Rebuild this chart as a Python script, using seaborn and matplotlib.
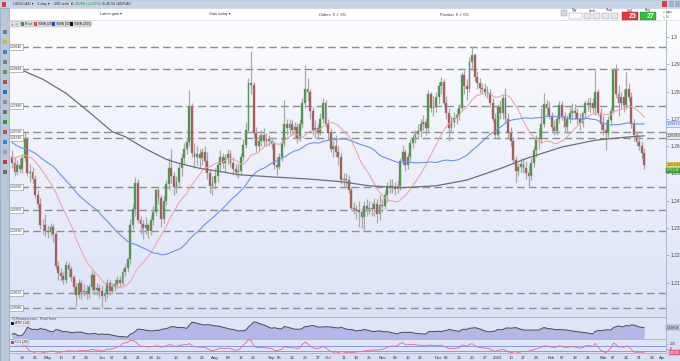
import numpy as np
import pandas as pd
import matplotlib
matplotlib.use("Agg")
import matplotlib.pyplot as plt
import matplotlib.transforms as mtransforms
from matplotlib.colors import LinearSegmentedColormap
from matplotlib.patches import Rectangle
import seaborn as sns

sns.set_theme(style="white")
plt.rcParams["font.family"] = ["Liberation Sans", "DejaVu Sans"]

W, H = 680, 361

# ---- USD/CAD daily candles, 13 Apr 2021 - 23 Mar 2022 (one row per week) ----
first_day = "2021-04-13"
first_open = 1.2560
closes = [
    1.2540, 1.2505, 1.2530, 1.2515,
    1.2555, 1.2625, 1.2500, 1.2505, 1.2480,
    1.2420, 1.2390, 1.2310, 1.2310, 1.2290,
    1.2285, 1.2305, 1.2280, 1.2160, 1.2135,
    1.2125, 1.2110, 1.2165, 1.2150, 1.2120,
    1.2085, 1.2055, 1.2100, 1.2065, 1.2070,
    1.2060, 1.2085, 1.2130, 1.2075, 1.2080,
    1.2070, 1.2050, 1.2060, 1.2100, 1.2070,
    1.2085, 1.2095, 1.2110, 1.2100, 1.2140,
    1.2155, 1.2185, 1.2310, 1.2370, 1.2465,
    1.2330, 1.2315, 1.2300, 1.2310, 1.2290,
    1.2330, 1.2360, 1.2440, 1.2410, 1.2335,
    1.2400, 1.2460, 1.2520, 1.2490, 1.2450,
    1.2470, 1.2520, 1.2555, 1.2590, 1.2615,
    1.2745, 1.2575, 1.2560, 1.2570, 1.2555,
    1.2580, 1.2545, 1.2500, 1.2455, 1.2465,
    1.2490, 1.2530, 1.2560, 1.2540, 1.2555,
    1.2570, 1.2540, 1.2515, 1.2505, 1.2510,
    1.2560, 1.2605, 1.2660, 1.2830, 1.2825,
    1.2650, 1.2600, 1.2620, 1.2640, 1.2620,
    1.2625, 1.2620, 1.2610, 1.2530, 1.2525,
    1.2560, 1.2610, 1.2680, 1.2665, 1.2680,
    1.2660, 1.2670, 1.2630, 1.2680, 1.2760,
    1.2810, 1.2800, 1.2730, 1.2660, 1.2665,
    1.2650, 1.2700, 1.2760, 1.2680, 1.2650,
    1.2590, 1.2600, 1.2580, 1.2560, 1.2475,
    1.2480, 1.2475, 1.2440, 1.2375, 1.2370,
    1.2365, 1.2360, 1.2340, 1.2380, 1.2370,
    1.2375, 1.2370, 1.2390, 1.2350, 1.2385,
    1.2380, 1.2420, 1.2450, 1.2455, 1.2450,
    1.2445, 1.2455, 1.2545, 1.2580, 1.2530,
    1.2560, 1.2610, 1.2630, 1.2645, 1.2655,
    1.2680, 1.2690, 1.2665, 1.2790, 1.2740,
    1.2745, 1.2780, 1.2820, 1.2835, 1.2760,
    1.2720, 1.2665, 1.2690, 1.2705, 1.2715,
    1.2740, 1.2860, 1.2820, 1.2810, 1.2910,
    1.2935, 1.2855, 1.2830, 1.2815, 1.2810,
    1.2800, 1.2795, 1.2760, 1.2700, 1.2640,
    1.2745, 1.2720, 1.2775, 1.2700, 1.2650,
    1.2620, 1.2550, 1.2510, 1.2525, 1.2535,
    1.2520, 1.2500, 1.2490, 1.2540, 1.2585,
    1.2630, 1.2625, 1.2680, 1.2755, 1.2740,
    1.2710, 1.2670, 1.2655, 1.2700, 1.2750,
    1.2710, 1.2670, 1.2700, 1.2720, 1.2730,
    1.2720, 1.2700, 1.2685, 1.2720, 1.2760,
    1.2750, 1.2760, 1.2740, 1.2800, 1.2720,
    1.2680, 1.2660, 1.2650, 1.2695, 1.2730,
    1.2880, 1.2790, 1.2760, 1.2780, 1.2750,
    1.2810, 1.2780, 1.2680, 1.2640, 1.2615,
    1.2600, 1.2575, 1.2530,
]
highs = [
    1.2585, 1.2560, 1.2550, 1.2555,
    1.2570, 1.2650, 1.2635, 1.2535, 1.2525,
    1.2495, 1.2440, 1.2410, 1.2335, 1.2350,
    1.2310, 1.2320, 1.2315, 1.2285, 1.2180,
    1.2155, 1.2140, 1.2180, 1.2175, 1.2160,
    1.2130, 1.2100, 1.2115, 1.2110, 1.2095,
    1.2090, 1.2095, 1.2145, 1.2140, 1.2100,
    1.2095, 1.2090, 1.2080, 1.2115, 1.2110,
    1.2100, 1.2115, 1.2125, 1.2125, 1.2155,
    1.2170, 1.2195, 1.2335, 1.2390, 1.2487,
    1.2480, 1.2345, 1.2330, 1.2340, 1.2320,
    1.2345, 1.2380, 1.2445, 1.2455, 1.2420,
    1.2420, 1.2475, 1.2555, 1.2590, 1.2505,
    1.2490, 1.2535, 1.2575, 1.2610, 1.2625,
    1.2805, 1.2760, 1.2610, 1.2600, 1.2590,
    1.2595, 1.2600, 1.2580, 1.2515, 1.2490,
    1.2520, 1.2545, 1.2585, 1.2575, 1.2570,
    1.2590, 1.2585, 1.2560, 1.2540, 1.2535,
    1.2575, 1.2625, 1.2690, 1.2850, 1.2949,
    1.2835, 1.2670, 1.2640, 1.2660, 1.2665,
    1.2650, 1.2640, 1.2635, 1.2620, 1.2560,
    1.2575, 1.2625, 1.2770, 1.2700, 1.2700,
    1.2695, 1.2690, 1.2685, 1.2700, 1.2775,
    1.2896, 1.2850, 1.2810, 1.2745, 1.2695,
    1.2680, 1.2720, 1.2775, 1.2770, 1.2700,
    1.2665, 1.2620, 1.2640, 1.2600, 1.2575,
    1.2500, 1.2500, 1.2495, 1.2450, 1.2395,
    1.2385, 1.2400, 1.2375, 1.2400, 1.2405,
    1.2400, 1.2395, 1.2410, 1.2405, 1.2420,
    1.2405, 1.2435, 1.2470, 1.2480, 1.2480,
    1.2470, 1.2475, 1.2555, 1.2605, 1.2590,
    1.2575, 1.2625, 1.2645, 1.2660, 1.2680,
    1.2700, 1.2715, 1.2705, 1.2805, 1.2800,
    1.2785, 1.2800, 1.2835, 1.2855, 1.2845,
    1.2785, 1.2740, 1.2710, 1.2725, 1.2735,
    1.2755, 1.2870, 1.2880, 1.2845, 1.2925,
    1.2964, 1.2940, 1.2875, 1.2850, 1.2830,
    1.2830, 1.2820, 1.2810, 1.2775, 1.2720,
    1.2755, 1.2770, 1.2790, 1.2815, 1.2720,
    1.2670, 1.2635, 1.2565, 1.2540, 1.2555,
    1.2555, 1.2545, 1.2530, 1.2555, 1.2600,
    1.2640, 1.2665, 1.2740, 1.2795, 1.2770,
    1.2765, 1.2725, 1.2695, 1.2715, 1.2765,
    1.2765, 1.2725, 1.2715, 1.2745, 1.2760,
    1.2755, 1.2740, 1.2720, 1.2730, 1.2770,
    1.2775, 1.2780, 1.2775, 1.2879, 1.2810,
    1.2740, 1.2715, 1.2690, 1.2710, 1.2745,
    1.2885, 1.2900, 1.2825, 1.2800, 1.2810,
    1.2870, 1.2830, 1.2800, 1.2700, 1.2655,
    1.2640, 1.2620, 1.2595,
]
lows = [
    1.2520, 1.2490, 1.2495, 1.2500,
    1.2500, 1.2545, 1.2490, 1.2470, 1.2465,
    1.2410, 1.2375, 1.2295, 1.2280, 1.2270,
    1.2265, 1.2270, 1.2250, 1.2150, 1.2110,
    1.2105, 1.2095, 1.2100, 1.2120, 1.2105,
    1.2060, 1.2015, 1.2045, 1.2040, 1.2050,
    1.2040, 1.2045, 1.2070, 1.2060, 1.2055,
    1.2045, 1.2007, 1.2030, 1.2045, 1.2055,
    1.2060, 1.2070, 1.2080, 1.2085, 1.2090,
    1.2125, 1.2140, 1.2170, 1.2295, 1.2345,
    1.2320, 1.2280, 1.2260, 1.2280, 1.2265,
    1.2275, 1.2310, 1.2345, 1.2390, 1.2305,
    1.2320, 1.2385, 1.2440, 1.2465, 1.2420,
    1.2430, 1.2455, 1.2490, 1.2535, 1.2570,
    1.2600, 1.2560, 1.2520, 1.2530, 1.2520,
    1.2530, 1.2520, 1.2480, 1.2430, 1.2420,
    1.2445, 1.2470, 1.2510, 1.2520, 1.2505,
    1.2535, 1.2525, 1.2495, 1.2490, 1.2485,
    1.2495, 1.2545, 1.2595, 1.2650, 1.2790,
    1.2630, 1.2580, 1.2585, 1.2600, 1.2600,
    1.2600, 1.2600, 1.2590, 1.2515, 1.2495,
    1.2515, 1.2545, 1.2600, 1.2640, 1.2645,
    1.2640, 1.2630, 1.2610, 1.2620, 1.2665,
    1.2740, 1.2765, 1.2700, 1.2640, 1.2630,
    1.2625, 1.2640, 1.2685, 1.2670, 1.2625,
    1.2580, 1.2560, 1.2560, 1.2530, 1.2460,
    1.2455, 1.2455, 1.2430, 1.2365, 1.2350,
    1.2335, 1.2305, 1.2300, 1.2288, 1.2345,
    1.2350, 1.2345, 1.2345, 1.2320, 1.2330,
    1.2360, 1.2370, 1.2395, 1.2430, 1.2430,
    1.2420, 1.2430, 1.2440, 1.2530, 1.2510,
    1.2515, 1.2545, 1.2595, 1.2610, 1.2625,
    1.2635, 1.2660, 1.2640, 1.2650, 1.2725,
    1.2710, 1.2725, 1.2755, 1.2790, 1.2745,
    1.2700, 1.2620, 1.2650, 1.2670, 1.2680,
    1.2695, 1.2730, 1.2790, 1.2770, 1.2800,
    1.2880, 1.2840, 1.2810, 1.2795, 1.2795,
    1.2785, 1.2775, 1.2745, 1.2690, 1.2630,
    1.2625, 1.2700, 1.2700, 1.2690, 1.2625,
    1.2600, 1.2540, 1.2470, 1.2490, 1.2505,
    1.2500, 1.2480, 1.2450, 1.2475, 1.2525,
    1.2560, 1.2590, 1.2610, 1.2670, 1.2715,
    1.2700, 1.2650, 1.2640, 1.2640, 1.2685,
    1.2695, 1.2650, 1.2650, 1.2685, 1.2700,
    1.2700, 1.2680, 1.2660, 1.2670, 1.2705,
    1.2730, 1.2725, 1.2720, 1.2715, 1.2710,
    1.2660, 1.2640, 1.2586, 1.2630, 1.2680,
    1.2720, 1.2775, 1.2710, 1.2740, 1.2725,
    1.2735, 1.2765, 1.2665, 1.2620, 1.2600,
    1.2585, 1.2555, 1.2518,
]
# closes before the window, 27 Jan - 12 Apr 2021, only feed SMA (20) / SMA (50)
early_closes = [
    1.2840, 1.2820, 1.2785, 1.2800, 1.2785,
    1.2810, 1.2820, 1.2760,
    1.2745, 1.2710, 1.2685, 1.2700, 1.2700,
    1.2685, 1.2700, 1.2720, 1.2690, 1.2640,
    1.2600, 1.2610, 1.2580, 1.2620, 1.2725,
    1.2640, 1.2620, 1.2660, 1.2690, 1.2655,
    1.2650, 1.2640, 1.2635, 1.2470, 1.2480,
    1.2460, 1.2470, 1.2485, 1.2440, 1.2475,
    1.2520, 1.2575, 1.2575, 1.2580, 1.2580,
    1.2620, 1.2625, 1.2570, 1.2585, 1.2560,
    1.2550, 1.2590, 1.2600, 1.2520, 1.2555,
    1.2560,
][-49:]
# SMA (200) (trading-day index, value)
sma200_days = [0, 3, 12, 21, 30, 39, 44, 52, 60, 65, 73, 89, 102, 115, 128,
               139, 152, 165, 177, 190, 201, 214, 227, 240, 246]
sma200_vals = [1.2890, 1.2882, 1.2845, 1.2794, 1.2725, 1.2653, 1.2635, 1.2590,
               1.2552, 1.2537, 1.2519, 1.2495, 1.2487, 1.2480, 1.2470, 1.2455,
               1.2448, 1.2455, 1.2476, 1.2518, 1.2558, 1.2597, 1.2622, 1.2634,
               1.2638]
levels = [1.29640, 1.28818, 1.27480, 1.26530, 1.26310, 1.24520, 1.23650,
          1.22880, 1.20630, 1.20080]
price_ticks = [1.21, 1.22, 1.23, 1.24, 1.25, 1.26, 1.27, 1.28, 1.29, 1.30]
price_labels = ["1.21", "1.22", "1.23", "1.24", "1.25", "1.26", "1.27",
                "1.28", "1.29", "1.3"]

# ---- derived series ----
n = len(closes)
day = np.arange(n)
c = np.array(closes)
o = np.array([first_open] + closes[:-1])
h = np.maximum(np.array(highs), np.maximum(o, c))
l = np.minimum(np.array(lows), np.minimum(o, c))

full = pd.Series(early_closes + closes)
k = len(early_closes)
ma = pd.DataFrame({"day": day,
                   "sma20": full.rolling(20).mean().to_numpy()[k:],
                   "sma50": full.rolling(50).mean().to_numpy()[k:]})

prev_c = np.concatenate([[first_open], c[:-1]])
tr = np.maximum(h - l, np.maximum(np.abs(h - prev_c), np.abs(l - prev_c)))
atr = pd.Series(tr).ewm(alpha=1 / 14).mean().to_numpy()
tp = pd.Series((h + l + c) / 3)
tp_ma = tp.rolling(20, min_periods=5).mean()
tp_md = tp.rolling(20, min_periods=5).apply(lambda v: np.mean(np.abs(v - v.mean())), raw=True)
cci = ((tp - tp_ma) / (0.015 * tp_md)).to_numpy()

# ---- layout helpers (pixel coordinates, origin top-left) ----
def fx(x):
    return x / W

def fy(y):
    return 1 - y / H

fig = plt.figure(figsize=(W / 100, H / 100), dpi=100)

def box(x0, y0, x1, y1, **kw):
    fig.add_artist(Rectangle((fx(x0), fy(y1)), fx(x1 - x0), (y1 - y0) / H,
                             transform=fig.transFigure, **kw))

def txt(x, y, s, **kw):
    kw.setdefault("fontsize", 3.0)
    kw.setdefault("color", "#333333")
    kw.setdefault("va", "center")
    fig.text(fx(x), fy(y), s, **kw)

# background gradient
bg = fig.add_axes([0, 0, 1, 1], zorder=-10)
bg.imshow(np.linspace(0, 1, 200)[:, None], aspect="auto", origin="upper",
          cmap=LinearSegmentedColormap.from_list("g", ["#ffffff", "#d7def5"]),
          extent=[0, 1, 0, 1])
bg.set_axis_off()

x_lo, x_hi = (9 - 12) / 2.57, (666 - 12) / 2.57
y_lo, y_hi = 1.30 - (317 - 37) / 2730, 1.30 + (37 - 20) / 2730

ax = fig.add_axes([fx(9), fy(317), fx(657), (317 - 20) / H])
ax.set_facecolor("none")

# horizontal levels
for lvl in levels:
    ax.axhline(lvl, color="#8e8e8e", lw=1.0, ls=(0, (5.5, 3)), zorder=2)
    ax.text(x_lo + 0.35, lvl, f"{lvl:.5f}", fontsize=2.4, ha="left", va="center",
            color="#333333", zorder=7,
            bbox=dict(boxstyle="square,pad=0.3", fc="white", ec="#8a8a8a", lw=0.4))

# candles
up = c >= o
ax.vlines(day, l, h, color="#a9a9a9", lw=0.9, zorder=3)
ax.bar(day, np.maximum(np.abs(c - o), 0.00015), bottom=np.minimum(o, c), width=0.72,
       color=np.where(up, "#3d9c3d", "#b5504c"), edgecolor="#8d8d8d", linewidth=0.3,
       zorder=4)

# moving averages
sns.lineplot(data=ma, x="day", y="sma20", ax=ax, color="#eba6a6", lw=0.75, zorder=5)
sns.lineplot(data=ma, x="day", y="sma50", ax=ax, color="#7090f0", lw=0.8, zorder=5)
sns.lineplot(x=sma200_days, y=sma200_vals, ax=ax, color="#707070", lw=0.9, zorder=5)

ax.set_xlim(x_lo, x_hi)
ax.set_ylim(y_lo, y_hi)
ax.set_xlabel("")
ax.set_ylabel("")
ax.set_xticks([])
ax.yaxis.tick_right()
ax.set_yticks(price_ticks)
ax.set_yticklabels(price_labels)
ax.tick_params(axis="y", length=2, width=0.4, pad=1.5, colors="#8a8a8a",
               labelcolor="#444444", labelsize=3.6)
for side in ["top", "left", "bottom"]:
    ax.spines[side].set_visible(False)
ax.spines["right"].set_color("#a9b0c8")
ax.spines["right"].set_linewidth(0.6)

# value tags on the price axis
tag_tr = mtransforms.blended_transform_factory(fig.transFigure, ax.transData)
ax.text(fx(667), ma["sma50"].iloc[-1], f"{ma['sma50'].iloc[-1]:.5f}", transform=tag_tr,
        fontsize=2.7, va="center", color="#2f55c8",
        bbox=dict(boxstyle="square,pad=0.25", fc="#e4ebff", ec="#7090f0", lw=0.4))
ax.text(fx(667), sma200_vals[-1], f"{sma200_vals[-1]:.5f}", transform=tag_tr,
        fontsize=2.7, va="center", color="#333333",
        bbox=dict(boxstyle="square,pad=0.25", fc="#e6e6e6", ec="#777777", lw=0.4))
ax.text(fx(667), closes[-1], f"{closes[-1]:.5f}", transform=tag_tr, fontsize=2.7,
        va="center", color="#222222",
        bbox=dict(boxstyle="square,pad=0.25", fc="#f1e05a", ec="#b89d00", lw=0.4))
ax.text(fx(667), closes[-1] - 0.0019, "07:51:39", transform=tag_tr, fontsize=2.3,
        va="center", color="white",
        bbox=dict(boxstyle="square,pad=0.2", fc="#3da13d", ec="#2a7a2a", lw=0.3))

# ---- ATR (14) panel ----
ax_atr = fig.add_axes([fx(9), fy(339), fx(657), 22 / H])
ax_atr.set_facecolor("#dfe4f7")
a_min, a_max = atr.min(), atr.max()
s = (a_max - a_min) / 15
a_bot, a_top = a_min - 2 * s, a_max + 5 * s
ax_atr.fill_between(day, atr, a_bot, color="#b3b8e6", lw=0, zorder=2)
sns.lineplot(x=day, y=atr, ax=ax_atr, color="#555566", lw=0.8, zorder=3)
ax_atr.set_xlim(x_lo, x_hi)
ax_atr.set_ylim(a_bot, a_top)
ax_atr.set_xticks([])
ax_atr.set_yticks([])
ax_atr.set_xlabel("")
ax_atr.set_ylabel("")
for side in ax_atr.spines:
    ax_atr.spines[side].set_color("#a7afd2")
    ax_atr.spines[side].set_linewidth(0.6)
ax_atr.spines["left"].set_visible(False)
ax_atr.text(fx(667), atr[-1], f"{atr[-1]:.5f}",
            transform=mtransforms.blended_transform_factory(fig.transFigure, ax_atr.transData),
            fontsize=2.5, va="center", color="#222222",
            bbox=dict(boxstyle="square,pad=0.2", fc="#d0d3ee", ec="#666677", lw=0.3))

# ---- CCI (20) panel ----
ax_cci = fig.add_axes([fx(9), fy(353), fx(657), 14 / H])
ax_cci.set_facecolor("#dfe4f7")
ax_cci.axhline(100, color="#8797e6", lw=0.7, zorder=2)
ax_cci.axhline(-100, color="#8797e6", lw=0.7, zorder=2)
sns.lineplot(x=day, y=cci, ax=ax_cci, color="#e46a88", lw=0.6, zorder=3)
ax_cci.set_xlim(x_lo, x_hi)
ax_cci.set_ylim(-180, 380)
ax_cci.set_xlabel("")
ax_cci.set_ylabel("")
ax_cci.yaxis.tick_right()
ax_cci.set_yticks([200, 0])
ax_cci.set_yticklabels(["200", "0"])
ax_cci.tick_params(axis="y", length=1.5, width=0.4, pad=1.2, colors="#8a8a8a",
                   labelcolor="#444444", labelsize=2.6)
for side in ax_cci.spines:
    ax_cci.spines[side].set_color("#a7afd2")
    ax_cci.spines[side].set_linewidth(0.6)
ax_cci.spines["left"].set_visible(False)
ax_cci.text(fx(669), -165, f"{cci[-1]:.2f}",
            transform=mtransforms.blended_transform_factory(fig.transFigure, ax_cci.transData),
            fontsize=2.2, va="center", color="white",
            bbox=dict(boxstyle="square,pad=0.1", fc="#e46a88", ec="#b84060", lw=0.3))

# date axis: month names at month starts, Monday dates in between
all_dates = pd.bdate_range(first_day, periods=int(x_hi) + 1)
month_pos = [i for i in range(1, len(all_dates))
             if all_dates[i].month != all_dates[i - 1].month]
tick_pos, tick_lab = [], []
for i, d in enumerate(all_dates):
    if i in month_pos:
        tick_pos.append(i)
        tick_lab.append("2022" if d.month == 1 else d.strftime("%b"))
    elif d.weekday() == 0 and all(abs(i - m) > 2 for m in month_pos):
        tick_pos.append(i)
        tick_lab.append(d.strftime("%d"))
ax_cci.set_xticks(tick_pos)
ax_cci.set_xticklabels(tick_lab)
ax_cci.tick_params(axis="x", length=1.5, width=0.4, pad=1.0, colors="#8a8a8a",
                   labelcolor="#333333", labelsize=3.1)

# panel captions
txt(12, 319.5, "IT-Finance.com - Real Time", fontsize=2.6, color="#444444")
box(11, 321.5, 14, 324.5, fc="#111111", lw=0)
txt(15, 323, "ATR (14)", fontsize=2.6,
    bbox=dict(boxstyle="square,pad=0.2", fc="#e8e8ef", ec="#b0b0c0", lw=0.3))
box(11, 340.5, 14, 343.5, fc="#e03030", lw=0)
txt(15, 342, "CCI (20)", fontsize=2.6,
    bbox=dict(boxstyle="square,pad=0.2", fc="#e8e8ef", ec="#b0b0c0", lw=0.3))

# ---- platform chrome ----
box(0, 0, 680, 8, fc="#c3d4e7", ec="#9fb4cc", lw=0.4)
box(0, 8, 680, 20, fc="#ffffff", ec="#c8d2de", lw=0.4)
box(0, 8, 9, 361, fc="#b8c8d8", ec="#8ea2b8", lw=0.5)
box(2, 1.5, 6, 6.5, fc="#d04040", lw=0)
txt(13, 4, "USD/CAD \u25be", fontsize=2.8)
txt(37, 4, "1 day \u25be", fontsize=2.8)
txt(54, 4, "200 units \u25be", fontsize=2.8)
box(68, 2, 71, 6, fc="white", ec="#888888", lw=0.3)
txt(72, 4, "1.25298 (+0.00%)", fontsize=2.6, color="#2a8a2a")
txt(102, 4, "15:46:50", fontsize=2.6)
txt(116, 4, "USD/CAD", fontsize=2.6)
box(662, 1, 667, 6.5, fc="#d04040", lw=0)
box(669, 1, 674, 6.5, fc="#9fb3c8", lw=0)
box(675, 1, 680, 6.5, fc="#9fb3c8", lw=0)
txt(100, 14.5, "Latest gain \u25be", fontsize=2.8)
txt(209, 14.5, "Gain today \u25be", fontsize=2.8)
txt(319, 14.5, "Orders  0 \u2713 0%", fontsize=2.8)
txt(440, 14.5, "Position  0 \u2713 0%", fontsize=2.8)
box(561, 10, 567, 16, fc="#cfd8e2", ec="#8a9aaa", lw=0.3)
txt(575, 10.5, "Qty", fontsize=2.5, ha="center")
box(569, 13, 582, 19, fc="white", ec="#999999", lw=0.3)
txt(592, 10.5, "Limit", fontsize=2.5, ha="center")
box(584, 13, 591, 19, fc="#e6e6e6", ec="#999999", lw=0.3)
box(593, 13, 600, 19, fc="#e6e6e6", ec="#999999", lw=0.3)
txt(609, 10.5, "Stop", fontsize=2.5, ha="center")
box(602, 13, 609, 19, fc="#e6e6e6", ec="#999999", lw=0.3)
box(611, 13, 618, 19, fc="#e6e6e6", ec="#999999", lw=0.3)
txt(630, 10.5, "Sell", fontsize=2.5, ha="center")
box(622, 12.5, 638, 19.5, fc="#e0393e", ec="#b02020", lw=0.3)
txt(633, 16, "25", fontsize=5.0, color="white", ha="center", weight="bold")
txt(648, 10.5, "Buy", fontsize=2.5, ha="center")
box(640, 12.5, 656, 19.5, fc="#2fbf3a", ec="#1e8e28", lw=0.3)
txt(651, 16, "27", fontsize=5.0, color="white", ha="center", weight="bold")
txt(663, 12, "\u25cb pips", fontsize=2.3)
txt(663, 17, "\u25cb %", fontsize=2.3)

# legend strip
box(9, 21, 91, 27, fc="#d9d9de", ec="#b8b8c0", lw=0.3)
txt(10.5, 24, "\u00d7", fontsize=3.0, color="#c03050")
txt(15, 24, "+", fontsize=3.0, color="#2a8a2a")
legend_items = [(21, "#3d9c3d", "Price"), (34, "#e05050", "SMA (20)"),
                (52, "#2050e0", "SMA (50)"), (70, "#111111", "SMA (200)")]
for lx, col, name in legend_items:
    box(lx, 22.5, lx + 3, 25.5, fc=col, lw=0)
    txt(lx + 4, 24, name, fontsize=2.7)

# toolbar icons
icon_cols = ["#6a7f99", "#e0b030", "#4a7fc0", "#808080", "#5a9a5a", "#c04848",
             "#3a70c0", "#909090", "#707070", "#3a9a3a", "#c05050", "#4a80d0",
             "#a0a0a0", "#c04040", "#707070"]
for j, col in enumerate(icon_cols):
    yy = 30 + j * 10
    box(2.5, yy, 6.5, yy + 4, fc=col, lw=0)

fig.savefig("out.png", dpi=100)
